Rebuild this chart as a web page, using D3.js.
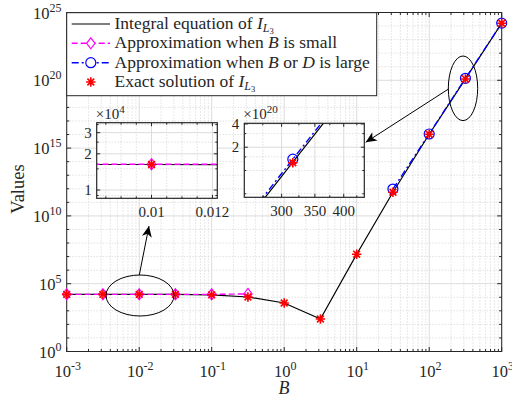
<!DOCTYPE html>
<html>
<head>
<meta charset="utf-8">
<script src="https://cdn.jsdelivr.net/npm/d3@7"></script>
<style>
body { margin: 0; background: #fff; }
text { font-family: "Liberation Serif", "Times New Roman", serif; fill: #262626; }
.grid-major { stroke: #dcdcdc; stroke-width: 1; }
.grid-minor { stroke: #c8c8c8; stroke-width: 0.8; stroke-dasharray: 1,2; }
</style>
</head>
<body>
<svg class="chart" width="512" height="398"></svg>
<script>
// B values (x) and the four series
var B = [0.001, 0.00316, 0.01, 0.0316, 0.1, 0.316, 1, 3.16, 10, 31.6, 100, 316, 1000]
var integral = [1.63e4, 1.63e4, 1.63e4, 1.62e4, 1.5e4, 1.05e4, 3.8e3, 250, 1.5e7, 5.5e11, 1.05e16, 1.28e20, 1.6e24]
var exact = [1.63e4, 1.63e4, 1.63e4, 1.62e4, 1.5e4, 1.05e4, 3.8e3, 250, 1.5e7, 5.5e11, 1.05e16, 1.26e20, 1.6e24]
var B_small = [0.001, 0.00316, 0.01, 0.0316, 0.1, 0.316]
var approx_small = [1.64e4, 1.64e4, 1.64e4, 1.64e4, 1.64e4, 1.75e4]
var B_large = [31.6, 100, 316, 1000]
var approx_large = [9.5e11, 1.1e16, 1.4e20, 1.65e24]

var x_ticks = [-3, -2, -1, 0, 1, 2, 3]
var y_ticks = [0, 5, 10, 15, 20, 25]
var inset1_yticks = [1, 2, 3]
var inset1_xticks = [0.01, 0.012]
var inset2_yticks = [2, 4]
var inset2_xticks = [300, 350, 400]

var svg = d3.select(".chart")

var x_scaler = d3.scaleLog().domain([1e-3, 1e3]).range([66.7, 501.7])
var y_scaler = d3.scaleLog().domain([1, 1e25]).range([351.5, 12.5])

function zip(xs, ys) { return xs.map(function(d, i) { return {x: d, y: ys[i]} }) }

function starPath(s) {
    var a = s * 0.72
    return "M" + (-s) + ",0H" + s + "M0," + (-s) + "V" + s +
        "M" + (-a) + "," + (-a) + "L" + a + "," + a + "M" + (-a) + "," + a + "L" + a + "," + (-a)
}
function diamondPath() { return "M0,-5.5L4.2,0L0,5.5L-4.2,0Z" }

// main axes grid
var g = svg.append("g")
var L = 66.7, R = 501.7, T = 12.5, Bt = 351.5

var xminor = []
for (var e = -3; e < 3; e++) for (var k = 2; k < 10; k++) xminor.push(k * Math.pow(10, e))
var yminor = []
for (var e = 1; e < 25; e++) if (e % 5 != 0) yminor.push(Math.pow(10, e))

g.selectAll(".xmin").data(xminor).enter().append("line").attr("class", "grid-minor")
  .attr("x1", function(d){return x_scaler(d)}).attr("x2", function(d){return x_scaler(d)})
  .attr("y1", T).attr("y2", Bt)
g.selectAll(".ymin").data(yminor).enter().append("line").attr("class", "grid-minor")
  .attr("y1", function(d){return y_scaler(d)}).attr("y2", function(d){return y_scaler(d)})
  .attr("x1", L).attr("x2", R)
g.selectAll(".xmaj").data(x_ticks).enter().append("line").attr("class", "grid-major")
  .attr("x1", function(d){return x_scaler(Math.pow(10, d))}).attr("x2", function(d){return x_scaler(Math.pow(10, d))})
  .attr("y1", T).attr("y2", Bt)
g.selectAll(".ymaj").data(y_ticks).enter().append("line").attr("class", "grid-major")
  .attr("y1", function(d){return y_scaler(Math.pow(10, d))}).attr("y2", function(d){return y_scaler(Math.pow(10, d))})
  .attr("x1", L).attr("x2", R)

// ticks on all four sides, pointing inwards
function ticks(sel, xs, ys, xlen, ylen) {
    xs.forEach(function(v) {
        var px = x_scaler(v)
        sel.append("line").attr("x1", px).attr("x2", px).attr("y1", Bt).attr("y2", Bt - xlen).attr("stroke", "#262626")
        sel.append("line").attr("x1", px).attr("x2", px).attr("y1", T).attr("y2", T + xlen).attr("stroke", "#262626")
    })
    ys.forEach(function(v) {
        var py = y_scaler(v)
        sel.append("line").attr("y1", py).attr("y2", py).attr("x1", L).attr("x2", L + ylen).attr("stroke", "#262626")
        sel.append("line").attr("y1", py).attr("y2", py).attr("x1", R).attr("x2", R - ylen).attr("stroke", "#262626")
    })
}
ticks(g, xminor, yminor, 2.5, 2.5)
ticks(g, x_ticks.map(function(d){return Math.pow(10, d)}), y_ticks.map(function(d){return Math.pow(10, d)}), 4.5, 4.5)

g.append("rect").attr("x", L).attr("y", T).attr("width", R - L).attr("height", Bt - T)
  .attr("fill", "none").attr("stroke", "#262626").attr("stroke-width", 1)

// tick labels 10^n
function powLabel(sel, n, x, y, anchor) {
    var t = sel.append("text").attr("x", x).attr("y", y).attr("text-anchor", anchor).style("font-size", "16.5px")
    t.append("tspan").text("10")
    t.append("tspan").attr("dy", -7).style("font-size", "12px").text(n)
    return t
}
x_ticks.forEach(function(d) { powLabel(svg, d, x_scaler(Math.pow(10, d)) + 1, 377, "middle") })
y_ticks.forEach(function(d) { powLabel(svg, d, 61.5, y_scaler(Math.pow(10, d)) + 6, "end") })

svg.append("text").attr("transform", "translate(24,189) rotate(-90)").attr("text-anchor", "middle")
  .style("font-size", "18.5px").text("Values")
svg.append("text").attr("x", 284).attr("y", 394).attr("text-anchor", "middle")
  .style("font-size", "18px").style("font-style", "italic").text("B")

// series drawing
function drawSeries(sel, xs, ys) {
    var line = d3.line().x(function(d){return xs(d.x)}).y(function(d){return ys(d.y)})
    sel.append("path").attr("d", line(zip(B, integral))).attr("fill", "none").attr("stroke", "#000").attr("stroke-width", 1.2)
    sel.append("path").attr("d", line(zip(B_small, approx_small))).attr("fill", "none")
      .attr("stroke", "#ff00ff").attr("stroke-width", 1.4).attr("stroke-dasharray", "6,3")
    sel.selectAll(".dia").data(zip(B_small, approx_small)).enter().append("path")
      .attr("d", diamondPath()).attr("transform", function(d){return "translate(" + xs(d.x) + "," + ys(d.y) + ")"})
      .attr("fill", "none").attr("stroke", "#ff00ff").attr("stroke-width", 1.2)
    sel.append("path").attr("d", line(zip(B_large, approx_large))).attr("fill", "none")
      .attr("stroke", "#0000ff").attr("stroke-width", 1.4).attr("stroke-dasharray", "7,3,2,3")
    sel.selectAll(".circ").data(zip(B_large, approx_large)).enter().append("circle")
      .attr("cx", function(d){return xs(d.x)}).attr("cy", function(d){return ys(d.y)}).attr("r", 5)
      .attr("fill", "none").attr("stroke", "#0000ff").attr("stroke-width", 1.2)
    sel.selectAll(".star").data(zip(B, exact)).enter().append("path")
      .attr("d", starPath(4.7)).attr("transform", function(d){return "translate(" + xs(d.x) + "," + ys(d.y) + ")"})
      .attr("fill", "none").attr("stroke", "#ff0000").attr("stroke-width", 1.6)
}
drawSeries(svg.append("g"), x_scaler, y_scaler)

// ellipses and arrows
function arrow(x1, y1, x2, y2) {
    svg.append("line").attr("x1", x1).attr("y1", y1).attr("x2", x2).attr("y2", y2).attr("stroke", "#000").attr("stroke-width", 1)
    var ang = Math.atan2(y2 - y1, x2 - x1) * 180 / Math.PI
    svg.append("path").attr("d", "M0,0L-11,-5L-8,0L-11,5Z").attr("fill", "#000")
      .attr("transform", "translate(" + x2 + "," + y2 + ") rotate(" + ang + ")")
}
svg.append("ellipse").attr("cx", 140).attr("cy", 295.5).attr("rx", 34).attr("ry", 20.5)
  .attr("fill", "none").attr("stroke", "#000").attr("stroke-width", 1)
arrow(139.3, 275, 149, 226)
svg.append("ellipse").attr("cx", 463).attr("cy", 88.3).attr("rx", 14.7).attr("ry", 32.3)
  .attr("fill", "none").attr("stroke", "#000").attr("stroke-width", 1)
arrow(449, 88.7, 365.7, 142.3)

// insets
function inset(opt) {
    var ig = svg.append("g")
    var l = opt.xs.range()[0], r = opt.xs.range()[1], b = opt.ys.range()[0], t = opt.ys.range()[1]
    ig.append("rect").attr("x", l).attr("y", t).attr("width", r - l).attr("height", b - t).attr("fill", "#fff")
    opt.xminor.forEach(function(v) {
        ig.append("line").attr("class", "grid-minor").attr("x1", opt.xs(v)).attr("x2", opt.xs(v)).attr("y1", t).attr("y2", b)
    })
    opt.yminor.forEach(function(v) {
        ig.append("line").attr("class", "grid-minor").attr("y1", opt.ys(v)).attr("y2", opt.ys(v)).attr("x1", l).attr("x2", r)
    })
    opt.xticks.forEach(function(v) {
        ig.append("line").attr("class", "grid-major").attr("x1", opt.xs(v)).attr("x2", opt.xs(v)).attr("y1", t).attr("y2", b)
    })
    opt.yticks.forEach(function(v) {
        ig.append("line").attr("class", "grid-major").attr("y1", opt.ys(v)).attr("y2", opt.ys(v)).attr("x1", l).attr("x2", r)
    })
    var clipId = "clip" + opt.id
    svg.append("clipPath").attr("id", clipId).append("rect").attr("x", l).attr("y", t).attr("width", r - l).attr("height", b - t)
    var dg = ig.append("g").attr("clip-path", "url(#" + clipId + ")")
    drawSeries(dg, opt.xs, function(v){return opt.ys(v / opt.scale)})
    // ticks
    opt.xminor.concat(opt.xticks).forEach(function(v) {
        var len = opt.xticks.indexOf(v) >= 0 ? 3.5 : 2
        ig.append("line").attr("x1", opt.xs(v)).attr("x2", opt.xs(v)).attr("y1", b).attr("y2", b - len).attr("stroke", "#262626")
        ig.append("line").attr("x1", opt.xs(v)).attr("x2", opt.xs(v)).attr("y1", t).attr("y2", t + len).attr("stroke", "#262626")
    })
    opt.yminor.concat(opt.yticks).forEach(function(v) {
        var len = opt.yticks.indexOf(v) >= 0 ? 3.5 : 2
        ig.append("line").attr("y1", opt.ys(v)).attr("y2", opt.ys(v)).attr("x1", l).attr("x2", l + len).attr("stroke", "#262626")
        ig.append("line").attr("y1", opt.ys(v)).attr("y2", opt.ys(v)).attr("x1", r).attr("x2", r - len).attr("stroke", "#262626")
    })
    ig.append("rect").attr("x", l).attr("y", t).attr("width", r - l).attr("height", b - t)
      .attr("fill", "none").attr("stroke", "#262626").attr("stroke-width", 1.2)
    opt.xticks.forEach(function(v) {
        ig.append("text").attr("x", opt.xs(v)).attr("y", b + 19).attr("text-anchor", "middle").style("font-size", "15px").text(opt.xfmt(v))
    })
    opt.yticks.forEach(function(v) {
        ig.append("text").attr("x", l - 5).attr("y", opt.ys(v) + 5).attr("text-anchor", "end").style("font-size", "15px").text(v)
    })
    var ex = ig.append("text").attr("x", l - 1).attr("y", t - 4).style("font-size", "15px")
    ex.append("tspan").text("\u00d710")
    ex.append("tspan").attr("dy", -6).style("font-size", "11px").text(opt.exp)
}

var ins1_x = d3.scaleLinear().domain([0.0082, 0.01216]).range([96.7, 217.3])
var ins1_y = d3.scaleLog().domain([0.853, 3.63]).range([198.3, 122.7])
inset({id: 1, xs: ins1_x, ys: ins1_y, scale: 1e4, exp: 4,
    xticks: inset1_xticks, yticks: inset1_yticks,
    xminor: [0.0085, 0.009, 0.0095, 0.0105, 0.011, 0.0115],
    yminor: [0.9, 1.5, 2.5, 3.5].filter(function(v){return v < 3.63}),
    xfmt: function(v){return String(v)}})

var ins2_x = d3.scaleLog().domain([252.4, 440]).range([244.3, 364.3])
var ins2_y = d3.scaleLog().domain([0.45, 4.08]).range([197.3, 123.3])
inset({id: 2, xs: ins2_x, ys: ins2_y, scale: 1e20, exp: 20,
    xticks: inset2_xticks, yticks: inset2_yticks,
    xminor: [275, 325, 375, 425],
    yminor: [0.5, 1, 1.5, 3],
    xfmt: function(v){return String(v)}})

// legend
var lg = svg.append("g")
lg.append("rect").attr("x", 66.7).attr("y", 12.7).attr("width", 310).attr("height", 83)
  .attr("fill", "#fff").attr("stroke", "#262626").attr("stroke-width", 1)
var rows = [24, 43.3, 62.7, 82]
function sub(t, base, s1, s2) {
    t.append("tspan").style("font-style", "italic").text(base)
    t.append("tspan").attr("dy", 3).style("font-size", "12px").style("font-style", "italic").text(s1)
    t.append("tspan").attr("dy", 2).style("font-size", "8.5px").text(s2)
}
lg.append("line").attr("x1", 71.7).attr("x2", 110).attr("y1", rows[0]).attr("y2", rows[0]).attr("stroke", "#000").attr("stroke-width", 1.2)
lg.append("line").attr("x1", 71.7).attr("x2", 110).attr("y1", rows[1]).attr("y2", rows[1]).attr("stroke", "#ff00ff").attr("stroke-width", 1.4).attr("stroke-dasharray", "6,3")
lg.append("path").attr("d", diamondPath()).attr("transform", "translate(90.8," + rows[1] + ")").attr("fill", "#fff").attr("stroke", "#ff00ff").attr("stroke-width", 1.2)
lg.append("line").attr("x1", 71.7).attr("x2", 110).attr("y1", rows[2]).attr("y2", rows[2]).attr("stroke", "#0000ff").attr("stroke-width", 1.4).attr("stroke-dasharray", "7,3,2,3")
lg.append("circle").attr("cx", 90.8).attr("cy", rows[2]).attr("r", 5).attr("fill", "#fff").attr("stroke", "#0000ff").attr("stroke-width", 1.2)
lg.append("path").attr("d", starPath(4.7)).attr("transform", "translate(90.8," + rows[3] + ")").attr("fill", "none").attr("stroke", "#ff0000").attr("stroke-width", 1.6)

var fs = "17.5px"
var t0 = lg.append("text").attr("x", 114.5).attr("y", rows[0] + 5).style("font-size", fs)
t0.append("tspan").text("Integral equation of ")
sub(t0, "I", "L", "3")
var t1 = lg.append("text").attr("x", 114.5).attr("y", rows[1] + 5).style("font-size", fs)
t1.append("tspan").text("Approximation when ")
t1.append("tspan").style("font-style", "italic").text("B")
t1.append("tspan").text(" is small")
var t2 = lg.append("text").attr("x", 114.5).attr("y", rows[2] + 5).style("font-size", fs)
t2.append("tspan").text("Approximation when ")
t2.append("tspan").style("font-style", "italic").text("B")
t2.append("tspan").text(" or ")
t2.append("tspan").style("font-style", "italic").text("D")
t2.append("tspan").text(" is large")
var t3 = lg.append("text").attr("x", 114.5).attr("y", rows[3] + 5).style("font-size", fs)
t3.append("tspan").text("Exact solution of ")
sub(t3, "I", "L", "3")
</script>
</body>
</html>
